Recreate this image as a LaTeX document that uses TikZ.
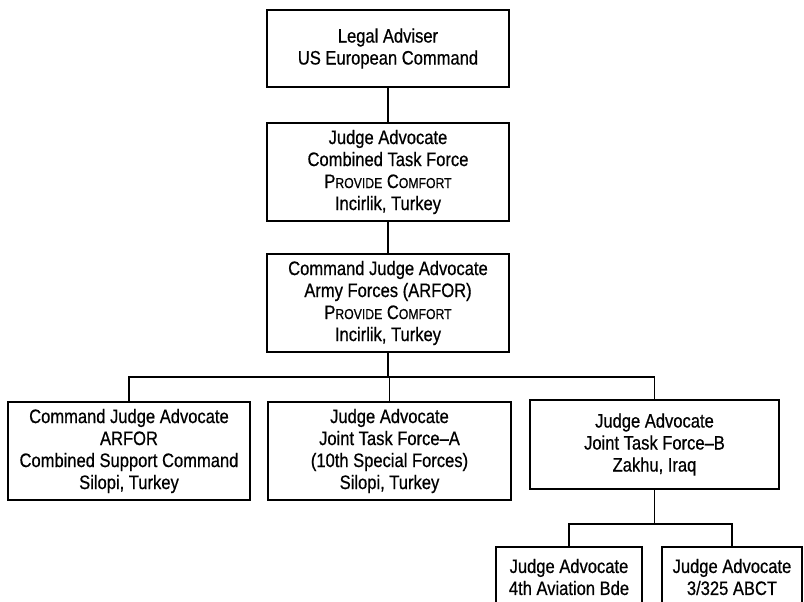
\documentclass[tikz,border=0pt]{standalone}
\usepackage{fontspec}
\setmainfont{Liberation Sans}[FakeStretch=0.85, FakeBold=0.6]
\newcommand{\smcap}[1]{{\fontsize{10.8pt}{16.5pt}\selectfont #1}}
\begin{document}
\begin{tikzpicture}
    [x=0.75pt, y=-0.75pt,
     box/.style={draw, line width=1pt, align=center, inner sep=0pt,
                 font=\fontsize{14.6pt}{16.5pt}\selectfont},
     link/.style={draw, line width=1pt}]
    \useasboundingbox (0,0) rectangle (804,601);
    \clip (0,0) rectangle (804,601);
    % top column
    \node[box, minimum width=242*0.75pt, minimum height=77*0.75pt] (adviser) at (388,48.5)
        {Legal Adviser\\US European Command};
    \node[box, minimum width=242*0.75pt, minimum height=98*0.75pt] (cjtf) at (388,172)
        {Judge Advocate\\Combined Task Force\\P\smcap{ROVIDE} C\smcap{OMFORT}\\Incirlik, Turkey};
    \node[box, minimum width=242*0.75pt, minimum height=98*0.75pt] (arfor) at (388,303)
        {Command Judge Advocate\\Army Forces (ARFOR)\\P\smcap{ROVIDE} C\smcap{OMFORT}\\Incirlik, Turkey};
    % second row
    \node[box, minimum width=242*0.75pt, minimum height=98*0.75pt] (csc) at (129,451)
        {Command Judge Advocate\\ARFOR\\Combined Support Command\\Silopi, Turkey};
    \node[box, minimum width=243*0.75pt, minimum height=98*0.75pt] (jtfa) at (389.5,451)
        {Judge Advocate\\Joint Task Force--A\\(10th Special Forces)\\Silopi, Turkey};
    \node[box, minimum width=249*0.75pt, minimum height=89*0.75pt] (jtfb) at (654.5,444.5)
        {Judge Advocate\\Joint Task Force--B\\Zakhu, Iraq};
    % under JTF-B, cut off by the page edge
    \node[box, minimum width=146*0.75pt, minimum height=60*0.75pt] (avn) at (569,577)
        {Judge Advocate\\4th Aviation Bde};
    \node[box, minimum width=140*0.75pt, minimum height=60*0.75pt] (abct) at (732,577)
        {Judge Advocate\\3/325 ABCT};
    \coordinate (bus) at (0,377);
    \coordinate (subbus) at (0,524);
    \path[link] (adviser) -- (cjtf);
    \path[link] (cjtf) -- (arfor);
    \path[link] (arfor.south) -- (arfor.south |- bus) -| (csc.north);
    \path[link] (arfor.south |- bus) -| (jtfa.north);
    \path[link] (arfor.south |- bus) -| (jtfb.north);
    \path[link] (jtfb.south) -- (jtfb.south |- subbus) -| (avn.north);
    \path[link] (jtfb.south |- subbus) -| (abct.north);
\end{tikzpicture}
\end{document}
